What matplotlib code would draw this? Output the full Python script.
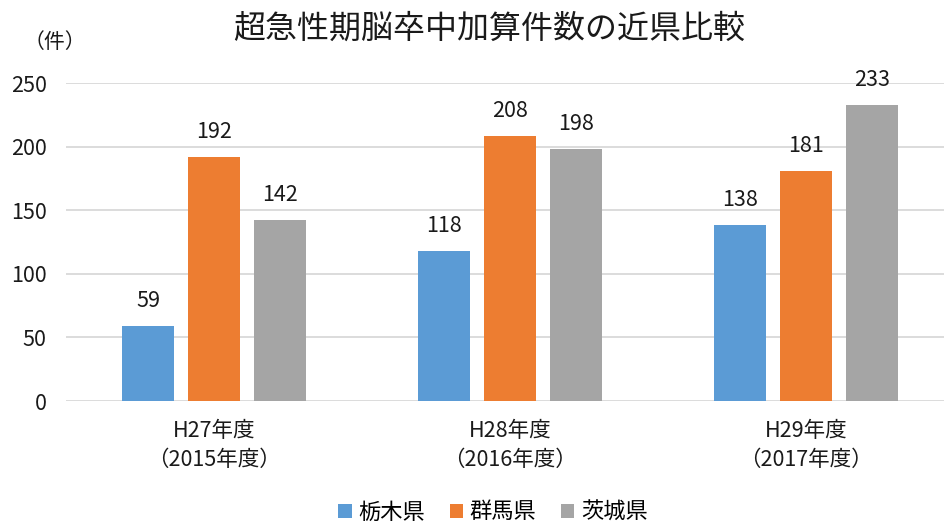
import numpy as np
import matplotlib.pyplot as plt

plt.rcParams['font.family'] = ['Noto Sans CJK JP', 'DejaVu Sans']

categories = ['H27年度\n（2015年度）', 'H28年度\n（2016年度）', 'H29年度\n（2017年度）']
prefs = ['栃木県', '群馬県', '茨城県']
tochigi = [59, 118, 138]
gunma = [192, 208, 181]
ibaraki = [142, 198, 233]
colors = ['#5b9bd5', '#ed7d31', '#a5a5a5']

fig = plt.figure(figsize=(9.44, 5.24), dpi=100)
ax = fig.add_axes([66/944, 1 - 401/524, 878/944, 318/524])

x = np.arange(len(categories))
w = 0.176
step = 0.223
for i, (vals, name) in enumerate(zip([tochigi, gunma, ibaraki], prefs)):
    bars = ax.bar(x + (i - 1) * step, vals, w, color=colors[i], label=name, zorder=3)
    for b, v in zip(bars, vals):
        ax.text(b.get_x() + b.get_width() / 2, v + 11, str(v), ha='center', va='bottom',
                fontsize=15.5, color='#1a1a1a')

ax.set_ylim(0, 250)
ax.set_xlim(-0.5, -0.5 + 878 / 296)
ax.set_yticks(range(0, 251, 50))
ax.set_xticks(x)
ax.set_xticklabels(categories, fontsize=15.5, color='#1a1a1a', linespacing=1.4)
ax.tick_params(axis='y', labelsize=15.5, labelcolor='#1a1a1a', length=0, pad=14)
ax.tick_params(axis='x', length=0, pad=14)
ax.grid(axis='y', color='#d9d9d9', linewidth=1.3, zorder=0)
for s in ax.spines.values():
    s.set_visible(False)

fig.text(55 / 944, 1 - 42 / 524, '（件）', fontsize=15, ha='center', va='center', color='#1a1a1a')
fig.text(489 / 944, 1 - 29 / 524, '超急性期脳卒中加算件数の近県比較', fontsize=23,
         ha='center', va='center', color='#1a1a1a')

fig.legend(loc='center', bbox_to_anchor=(493 / 944, 1 - 512 / 524), ncol=3, frameon=False,
           fontsize=16, handlelength=0.6, handleheight=0.6, handletextpad=0.3, columnspacing=1.1)

fig.savefig('out.png', dpi=100)
